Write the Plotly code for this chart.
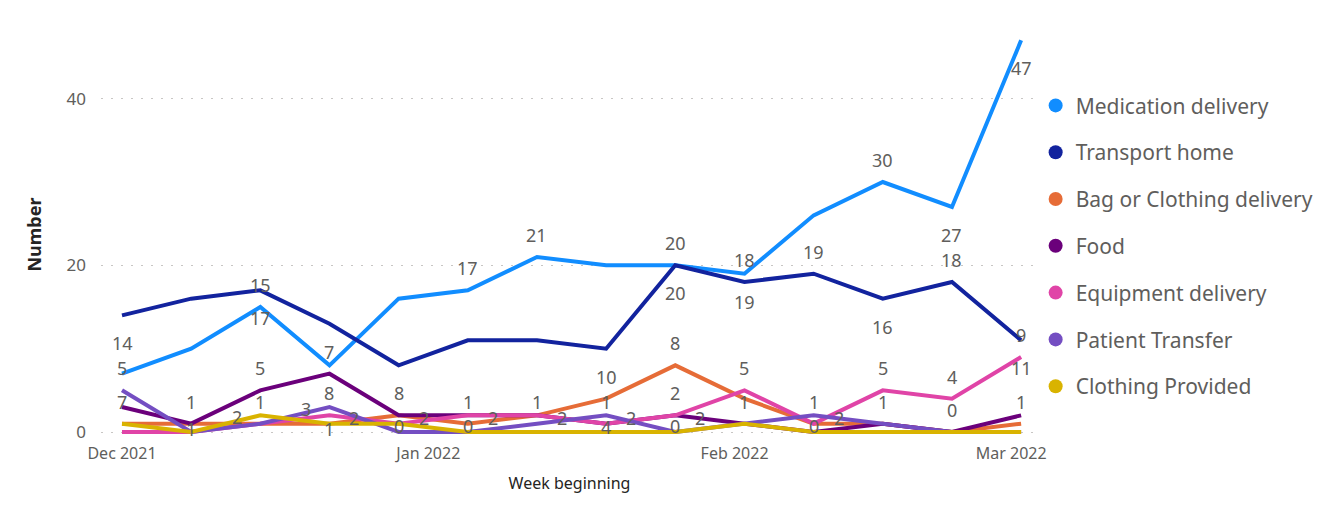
import pandas as pd
import plotly.graph_objects as go

# ---------------- data ----------------
weeks = pd.date_range("2021-12-01", periods=14, freq="7D")

series_names = ["Medication delivery", "Transport home", "Bag or Clothing delivery",
                "Food", "Equipment delivery", "Patient Transfer", "Clothing Provided"]

medication = [7, 10, 15, 8, 16, 17, 21, 20, 20, 19, 26, 30, 27, 47]
transport = [14, 16, 17, 13, 8, 11, 11, 10, 20, 18, 19, 16, 18, 11]
bag_clothing = [1, 1, 1, 1, 2, 1, 2, 4, 8, 4, 1, 1, 0, 1]
food = [3, 1, 5, 7, 2, 2, 2, 1, 2, 1, 0, 1, 0, 2]
equipment = [0, 0, 1, 2, 1, 2, 2, 1, 2, 5, 1, 5, 4, 9]
patient_transfer = [5, 0, 1, 3, 0, 0, 1, 2, 0, 1, 2, 1, 0, 0]
clothing_provided = [1, 0, 2, 1, 1, 0, 0, 0, 0, 1, 0, 0, 0, 0]

x_tick_vals = ["2021-12-01", "2022-01-01", "2022-02-01", "2022-03-01"]
x_tick_text = ["Dec 2021", "Jan 2022", "Feb 2022", "Mar 2022"]
y_tick_vals = [0, 20, 40]

# ---------------- styling ----------------
colors = ["#118DFF", "#12239E", "#E66C37", "#6B007B", "#E044A7", "#744EC2", "#D9B300"]
values = [medication, transport, bag_clothing, food, equipment, patient_transfer, clothing_provided]

# where Power BI placed each data label:
# a=above, b=below, r=right, l=left, c=on point, d=just under point, ''=none
label_pos = [
    ["b", "", "a", "b", "", "a", "a", "", "a", "b", "", "a", "b", "b"],
    ["b", "", "b", "", "b", "", "", "b", "b", "a", "a", "b", "a", "b"],
    ["", "d", "", "d", "r", "a", "r", "b", "a", "", "", "", "", "a"],
    ["", "a", "a", "a", "", "r", "", "a", "r", "", "", "", "", ""],
    ["", "", "", "r", "", "", "", "", "a", "a", "a", "a", "a", "a"],
    ["a", "", "a", "l", "c", "c", "a", "r", "c", "a", "r", "a", "", ""],
    ["", "", "l", "", "", "", "", "", "", "", "c", "", "a", ""],
]
shifts = {"a": (0, 22), "b": (0, -28), "c": (0, 6), "d": (0, -5),
          "r": (25, -3), "l": (-23, -2)}

FONT = "Segoe UI, Noto Sans, sans-serif"
GREY = "#605E5C"
DARK = "#252423"

fig = go.Figure()
for name, col, vals in zip(series_names, colors, values):
    fig.add_trace(go.Scatter(x=weeks, y=vals, mode="lines", name=name,
                             line=dict(color=col, width=4), showlegend=False,
                             hoverinfo="x+y+name"))
# legend entries with circle symbols
for i, (name, col) in enumerate(zip(series_names, colors)):
    fig.add_trace(go.Scatter(x=[None], y=[None], mode="markers", name=name,
                             marker=dict(color=col, size=14, symbol="circle"),
                             legendgroup=f"g{i}", showlegend=True))

annotations = []
for vals, pos in zip(values, label_pos):
    for d, v, p in zip(weeks, vals, pos):
        if not p:
            continue
        dx, dy = shifts[p]
        annotations.append(dict(x=d, y=v, text=str(v), showarrow=False,
                                xshift=dx, yshift=dy,
                                font=dict(family=FONT, size=18, color=GREY)))

fig.update_layout(
    width=1332, height=505,
    margin=dict(l=93, r=302, t=24, b=76, autoexpand=False),
    paper_bgcolor="white", plot_bgcolor="white",
    font=dict(family=FONT, color=GREY),
    annotations=annotations,
    legend=dict(xref="container", yref="container", x=0.7715, y=0.847,
                xanchor="left", yanchor="top", maxheight=430,
                font=dict(family=FONT, size=21, color=GREY),
                tracegroupgap=16.5, itemwidth=30, traceorder="grouped"),
    xaxis=dict(range=[pd.Timestamp("2021-11-28 21:00"), pd.Timestamp("2022-03-03 17:00")],
               tickvals=x_tick_vals, ticktext=x_tick_text, showgrid=False,
               zeroline=False, showline=False, ticks="", automargin=False,
               ticklabelstandoff=5,
               tickfont=dict(family=FONT, size=16, color=GREY),
               title=dict(text="Week beginning", standoff=14,
                          font=dict(family=FONT, size=16, color=DARK))),
    yaxis=dict(range=[-0.6, 48], tickvals=y_tick_vals, showgrid=True,
               gridcolor="#C8C6C4", griddash="2px,8px", gridwidth=1.2,
               zeroline=False, showline=False, ticks="", ticklabelstandoff=14,
               automargin=False,
               tickfont=dict(family=FONT, size=17, color=GREY),
               title=dict(text="<b>Number</b>", standoff=20,
                          font=dict(family=FONT, size=18, color=DARK))),
)

fig.write_html("out.html")
